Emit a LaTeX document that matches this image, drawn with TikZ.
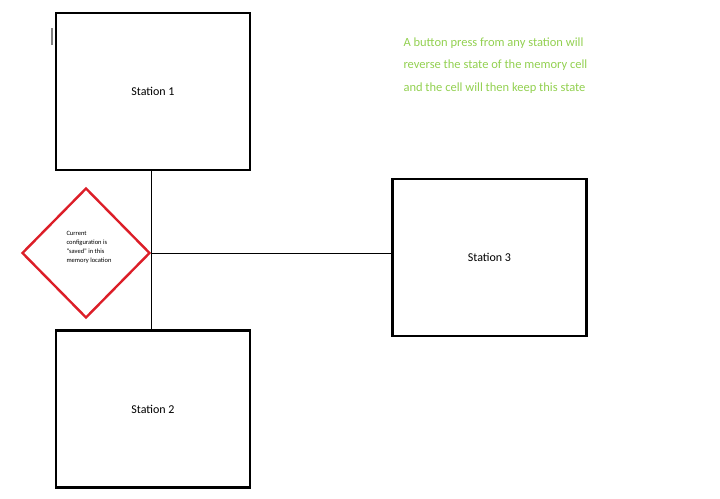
\documentclass[tikz,border=0pt]{standalone}
\usepackage{fontspec}
\setmainfont{Carlito}
\usetikzlibrary{shapes.geometric}
\definecolor{notegreen}{RGB}{146,208,80}
\definecolor{cellred}{RGB}{220,30,40}

\begin{document}
\begin{tikzpicture}[x=1pt, y=-1pt,
  station/.style={draw, line width=2.2pt, minimum width=194pt, minimum height=157pt, font=\fontsize{12}{14}\selectfont},
  cell/.style={diamond, draw=cellred, line width=2.4pt, minimum width=128pt, minimum height=130pt, inner sep=0pt, align=left, font=\fontsize{6.5}{9}\selectfont}]
\useasboundingbox (0,0) rectangle (720,498);
\node[station] (s1) at (153,91.5) {Station 1};
\node[station] (s2) at (153,409) {Station 2};
\node[station] (s3) at (489.5,257.5) {Station 3};
\node[cell] (cell) at (86,253) {};
\node[align=left, font=\fontsize{6.5}{9}\selectfont, anchor=north west] (celltext) at (63,228) {Current\\configuration is\\``saved'' in this\\memory location};
\draw[gray, line width=1.5pt] (52,28) -- (52,45);
\draw[line width=1pt] (s1.south -| cell.east) -- (s2.north -| cell.east);
\draw[line width=1pt] (cell.east) -- (cell.east -| s3.west);
\node[anchor=north west, align=left, text=notegreen, font=\fontsize{12.5}{22.5}\selectfont] (note) at (400,34)
  {A button press from any station will\\reverse the state of the memory cell\\and the cell will then keep this state};
\end{tikzpicture}
\end{document}
